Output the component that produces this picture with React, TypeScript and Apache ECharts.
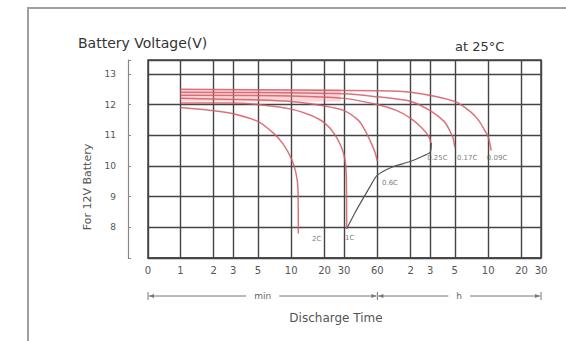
import React, { useEffect, useRef } from 'react';
import * as echarts from 'echarts';

// X axis: discharge time in minutes (log scale); labels in min then h
const xTickValues = [0.51, 1, 2, 3, 5, 10, 20, 30, 60, 120, 180, 300, 600, 1200, 1800];
const xTickLabels = ['0', '1', '2', '3', '5', '10', '20', '30', '60', '2', '3', '5', '10', '20', '30'];
const yLabelValues = [8, 9, 10, 11, 12, 13];
const yTickValues = [7, 8, 9, 10, 11, 12, 13, 13.45];

const curveNames = ['2C', '1C', '0.6C', '0.25C', '0.17C', '0.09C'];
const curve2C = [[1, 11.9], [2, 11.8], [3, 11.7], [5, 11.45], [7, 11.05], [8.5, 10.7], [10, 10.25], [11, 9.8], [11.5, 9.3], [11.6, 7.8]];
const curve1C = [[1, 12.05], [3, 12.05], [5, 12.0], [10, 11.85], [15, 11.65], [20, 11.4], [25, 11.0], [30, 10.35], [31.5, 9.6], [31.7, 7.95]];
const curve06C = [[1, 12.2], [5, 12.15], [10, 12.1], [20, 11.95], [30, 11.8], [40, 11.5], [45, 11.25], [52, 10.8], [57, 10.45], [60, 10.15]];
const curve025C = [[1, 12.3], [10, 12.28], [30, 12.2], [60, 12.0], [90, 11.8], [120, 11.55], [150, 11.25], [175, 10.95], [184, 10.7]];
const curve017C = [[1, 12.4], [30, 12.35], [60, 12.25], [120, 12.1], [180, 11.8], [240, 11.45], [270, 11.15], [290, 10.9], [300, 10.6]];
const curve009C = [[1, 12.5], [60, 12.45], [120, 12.4], [300, 12.1], [420, 11.75], [500, 11.45], [560, 11.15], [600, 10.95], [640, 10.5]];
const endVoltageLine = [[31.7, 7.95], [38, 8.5], [44, 8.9], [52, 9.35], [60, 9.7], [80, 9.95], [120, 10.15], [150, 10.3], [180, 10.45], [184, 10.75]];

const curveLabelX = [17, 33.8, 78, 209, 388, 722];
const curveLabelY = [7.62, 7.65, 9.45, 10.27, 10.27, 10.27];

const unitNames = ['min', 'h'];
const unitBounds = [0.51, 60, 1800];

function labelFor(v: number) {
  let best = 0;
  let bd = Infinity;
  xTickValues.forEach((t, i) => {
    const d = Math.abs(Math.log(t) - Math.log(v));
    if (d < bd) { bd = d; best = i; }
  });
  return xTickLabels[best];
}

export default function App() {
  const ref = useRef<HTMLDivElement>(null);
  useEffect(() => {
    const chart = echarts.init(ref.current!, null, { renderer: 'svg' });
    const curves = [curve2C, curve1C, curve06C, curve025C, curve017C, curve009C];
    const red = 'rgba(214,90,100,0.85)';
    const option: any = {
      animation: false,
      textStyle: { fontFamily: 'DejaVu Sans' },
      grid: { left: 148, right: 25, top: 60, bottom: 83, show: true, borderColor: '#444', borderWidth: 1.5 },
      xAxis: {
        type: 'log', logBase: 10, min: 0.51, max: 1800,
        axisLine: { show: true, lineStyle: { color: '#444', width: 1.5 } },
        axisTick: { show: true, inside: true, length: 3, customValues: xTickValues, lineStyle: { color: '#444' } },
        axisLabel: { customValues: xTickValues, formatter: (v: number) => labelFor(v), fontSize: 10, color: '#555', margin: 7 },
        splitLine: { show: true, lineStyle: { color: '#444', width: 1.4 } },
        minorTick: { show: false },
        minorSplitLine: { show: false },
      },
      yAxis: {
        type: 'value', min: 7, max: 13.45, offset: 20,
        axisLine: { show: true, lineStyle: { color: '#888', width: 1.2 } },
        axisTick: { show: true, inside: true, length: 3, customValues: yTickValues, lineStyle: { color: '#888' } },
        axisLabel: { customValues: yLabelValues, fontSize: 9, color: '#555', margin: 12 },
        splitLine: { show: true, lineStyle: { color: '#444', width: 1.4 } },
      },
      series: [
        ...curves.map((c, i) => ({
          type: 'line', name: curveNames[i], data: c, showSymbol: false, smooth: 0.3,
          lineStyle: { color: red, width: 1.5 },
          z: 3,
          markArea: i === 2 ? {
            silent: true,
            itemStyle: { color: 'rgba(240,140,145,0.35)' },
            data: [[{ xAxis: 1, yAxis: 12.1 }, { xAxis: 28, yAxis: 12.5 }]],
          } : undefined,
        })),
        {
          type: 'line', name: 'end', data: endVoltageLine, showSymbol: false, smooth: 0.3,
          lineStyle: { color: '#555', width: 1.2 }, z: 4,
        },
        {
          type: 'scatter', name: 'labels', symbolSize: 1, itemStyle: { color: 'rgba(0,0,0,0)' },
          data: curveLabelX.map((x, i) => ({ name: curveNames[i], value: [x, curveLabelY[i]] })),
          label: { show: true, position: 'inside', formatter: '{b}', fontSize: 7, color: '#555' },
          z: 5,
        },
      ],
    };
    chart.setOption(option);

    const px = (v: number) => chart.convertToPixel({ xAxisIndex: 0 }, v) as number;
    const by = 296;
    const graphics: any[] = [
      { type: 'rect', silent: true, z: -10, shape: { x: 28, y: 8, width: 600, height: 400 }, style: { fill: 'none', stroke: '#a0a0a0', lineWidth: 2 } },
      { type: 'text', left: 78, top: 36, style: { text: 'Battery Voltage(V)', fontSize: 14, fill: '#333', fontFamily: 'DejaVu Sans' } },
      { type: 'text', left: 455, top: 40, style: { text: 'at 25°C', fontSize: 13, fill: '#333', fontFamily: 'DejaVu Sans' } },
      { type: 'text', x: 87, y: 187, rotation: Math.PI / 2, style: { text: 'For 12V Battery', fontSize: 11, fill: '#555', align: 'center', verticalAlign: 'middle', fontFamily: 'DejaVu Sans' } },
      { type: 'text', x: 336, y: 318, style: { text: 'Discharge Time', fontSize: 12, fill: '#555', align: 'center', verticalAlign: 'middle', fontFamily: 'DejaVu Sans' } },
    ];
    unitNames.forEach((n, i) => {
      const x0 = px(unitBounds[i]);
      const x1 = px(unitBounds[i + 1]);
      const mid = (x0 + x1) / 2;
      graphics.push({ type: 'line', shape: { x1: x0 + 1, y1: by, x2: x1 - 1, y2: by }, style: { stroke: '#777', lineWidth: 1 } });
      graphics.push({ type: 'polygon', shape: { points: [[x0 + 1, by], [x0 + 6, by - 2], [x0 + 6, by + 2]] }, style: { fill: '#777' } });
      graphics.push({ type: 'polygon', shape: { points: [[x1 - 1, by], [x1 - 6, by - 2], [x1 - 6, by + 2]] }, style: { fill: '#777' } });
      graphics.push({ type: 'text', x: mid, y: by, z: 10, style: { text: n, fontSize: 9, fill: '#666', align: 'center', verticalAlign: 'middle', backgroundColor: '#fff', padding: [0, 8], fontFamily: 'DejaVu Sans' } });
    });
    unitBounds.forEach((b) => {
      const x = px(b);
      graphics.push({ type: 'line', shape: { x1: x, y1: by - 4, x2: x, y2: by + 4 }, style: { stroke: '#777', lineWidth: 1 } });
    });
    chart.setOption({ graphic: graphics });
    return () => chart.dispose();
  }, []);
  return <div ref={ref} style={{ position: 'fixed', left: 0, top: 0, width: 566, height: 341, background: '#fff' }} />;
}
